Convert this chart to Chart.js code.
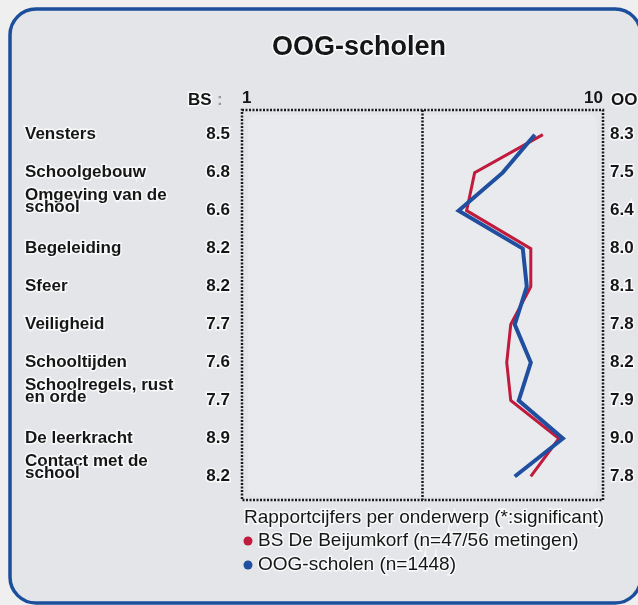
<!DOCTYPE html>
<html>
<head>
<meta charset="utf-8">
<script src="https://cdn.jsdelivr.net/npm/chart.js@4/dist/chart.umd.min.js"></script>
<style>
html, body { margin: 0; padding: 0; background: #efefef; }
#wrap { width: 638px; height: 605px; }
</style>
</head>
<body>
<div id="wrap"><canvas id="chart"></canvas></div>
<script>
// onderwerpen, van boven naar beneden
var topics = [
    ["Vensters"],
    ["Schoolgebouw"],
    ["Omgeving van de", "school"],
    ["Begeleiding"],
    ["Sfeer"],
    ["Veiligheid"],
    ["Schooltijden"],
    ["Schoolregels, rust", "en orde"],
    ["De leerkracht"],
    ["Contact met de", "school"]
];
var bsScores = [8.5, 6.8, 6.6, 8.2, 8.2, 7.7, 7.6, 7.7, 8.9, 8.2];
var oogScores = [8.3, 7.5, 6.4, 8.0, 8.1, 7.8, 8.2, 7.9, 9.0, 7.8];
var scaleTicks = [1, 10];
var scaleMid = 5.5;

var chartTitle = "OOG-scholen";
var footNote = "Rapportcijfers per onderwerp (*:significant)";
var bsLabel = "BS De Beijumkorf (n=47/56 metingen)";
var oogLabel = "OOG-scholen (n=1448)";

var FONT = "'Liberation Sans', Arial, sans-serif";

function toPoints(scores) {
    let pts = [];
    for (let i = 0; i < scores.length; i++)
        pts.push({x: scores[i], y: i});
    return pts;
}

function roundRect(ctx, x, y, w, h, r) {
    ctx.beginPath();
    ctx.moveTo(x + r, y);
    ctx.lineTo(x + w - r, y);
    ctx.arcTo(x + w, y, x + w, y + r, r);
    ctx.lineTo(x + w, y + h - r);
    ctx.arcTo(x + w, y + h, x + w - r, y + h, r);
    ctx.lineTo(x + r, y + h);
    ctx.arcTo(x, y + h, x, y + h - r, r);
    ctx.lineTo(x, y + r);
    ctx.arcTo(x, y, x + r, y, r);
    ctx.closePath();
}

function haloText(ctx, text, x, y) {
    ctx.lineWidth = 3;
    ctx.strokeStyle = "rgba(255,255,255,0.75)";
    ctx.strokeText(text, x, y);
    ctx.fillText(text, x, y);
}

var panelPlugin = {
    id: "panel",
    beforeDraw: function (chart) {
        let ctx = chart.ctx;
        ctx.save();
        ctx.fillStyle = "#efefef";
        ctx.fillRect(0, 0, chart.width, chart.height);
        roundRect(ctx, 10, 9, 631, 594, 26);
        ctx.fillStyle = "#e3e5e9";
        ctx.fill();
        ctx.lineWidth = 3.5;
        ctx.strokeStyle = "#1c4f9b";
        ctx.stroke();
        ctx.restore();
    },
    beforeDatasetsDraw: function (chart) {
        let ctx = chart.ctx;
        let xs = chart.scales.x;
        let area = chart.chartArea;
        let left = xs.getPixelForValue(scaleTicks[0]);
        let right = xs.getPixelForValue(scaleTicks[1]);
        let mid = xs.getPixelForValue(scaleMid);
        ctx.save();
        roundRect(ctx, left + 6, area.top + 5, right - left - 12, area.bottom - area.top - 8, 8);
        ctx.fillStyle = "#e9eaee";
        ctx.fill();
        ctx.setLineDash([2, 1.5]);
        ctx.lineWidth = 2.5;
        ctx.strokeStyle = "#1b1b1b";
        ctx.strokeRect(left, area.top, right - left, area.bottom - area.top);
        ctx.beginPath();
        ctx.moveTo(mid, area.top);
        ctx.lineTo(mid, area.bottom);
        ctx.stroke();
        ctx.restore();
    },
    afterDraw: function (chart) {
        let ctx = chart.ctx;
        let ys = chart.scales.y;
        let area = chart.chartArea;
        ctx.save();
        ctx.fillStyle = "#161616";

        // titel
        ctx.font = "bold 27px " + FONT;
        ctx.textAlign = "center";
        ctx.textBaseline = "middle";
        haloText(ctx, chartTitle, 359, 48);

        // kolomkoppen
        ctx.font = "bold 17px " + FONT;
        ctx.textAlign = "left";
        ctx.textBaseline = "alphabetic";
        haloText(ctx, "BS", 188, 105);
        haloText(ctx, "OOG", 611, 105);
        ctx.fillStyle = "#9a9a9a";
        ctx.fillText(":", 217, 105);
        ctx.fillStyle = "#161616";

        // rijen
        ctx.textBaseline = "middle";
        for (let i = 0; i < topics.length; i++) {
            let y = ys.getPixelForValue(i);
            ctx.textAlign = "left";
            let lines = topics[i];
            if (lines.length === 1) {
                haloText(ctx, lines[0], 25, y);
            } else {
                haloText(ctx, lines[0], 25, y - 15);
                haloText(ctx, lines[1], 25, y - 3);
            }
            ctx.textAlign = "right";
            haloText(ctx, bsScores[i].toFixed(1), 230, y);
            ctx.textAlign = "left";
            haloText(ctx, oogScores[i].toFixed(1), 610, y);
        }

        // legenda
        let ds = chart.data.datasets;
        ctx.font = "19px " + FONT;
        ctx.textAlign = "left";
        haloText(ctx, footNote, 244, area.bottom + 18);
        let entries = [ds[1], ds[0]];
        for (let k = 0; k < entries.length; k++) {
            let y = area.bottom + 41 + k * 24;
            ctx.beginPath();
            ctx.arc(248, y, 4.5, 0, Math.PI * 2);
            ctx.fillStyle = entries[k].borderColor;
            ctx.fill();
            ctx.fillStyle = "#161616";
            haloText(ctx, entries[k].label, 258, y);
        }
        ctx.restore();
    }
};

var chart = new Chart(document.getElementById("chart").getContext("2d"), {
    type: "scatter",
    data: {
        datasets: [
            {
                label: oogLabel,
                data: toPoints(oogScores),
                showLine: true,
                borderColor: "#1f4f9e",
                backgroundColor: "#1f4f9e",
                borderWidth: 4,
                pointRadius: 0,
                tension: 0,
                order: 0
            },
            {
                label: bsLabel,
                data: toPoints(bsScores),
                showLine: true,
                borderColor: "#c01a3c",
                backgroundColor: "#c01a3c",
                borderWidth: 3,
                pointRadius: 0,
                tension: 0,
                order: 1
            }
        ]
    },
    options: {
        responsive: true,
        maintainAspectRatio: false,
        animation: false,
        layout: {
            padding: {left: 242, right: 35, top: 0, bottom: 105}
        },
        plugins: {
            legend: {display: false},
            tooltip: {enabled: false},
            title: {display: false}
        },
        scales: {
            x: {
                type: "linear",
                position: "top",
                min: scaleTicks[0],
                max: scaleTicks[1],
                afterBuildTicks: function (axis) {
                    axis.ticks = scaleTicks.map(function (v) { return {value: v}; });
                },
                afterFit: function (axis) {
                    axis.height = 110;
                },
                grid: {display: false, drawTicks: false},
                border: {display: false},
                ticks: {
                    align: "inner",
                    padding: 1,
                    maxRotation: 0,
                    color: "#161616",
                    font: {family: FONT, size: 17, weight: "bold"}
                }
            },
            y: {
                type: "linear",
                display: false,
                reverse: true,
                min: -0.65,
                max: 9.62
            }
        }
    },
    plugins: [panelPlugin]
});
</script>
</body>
</html>
